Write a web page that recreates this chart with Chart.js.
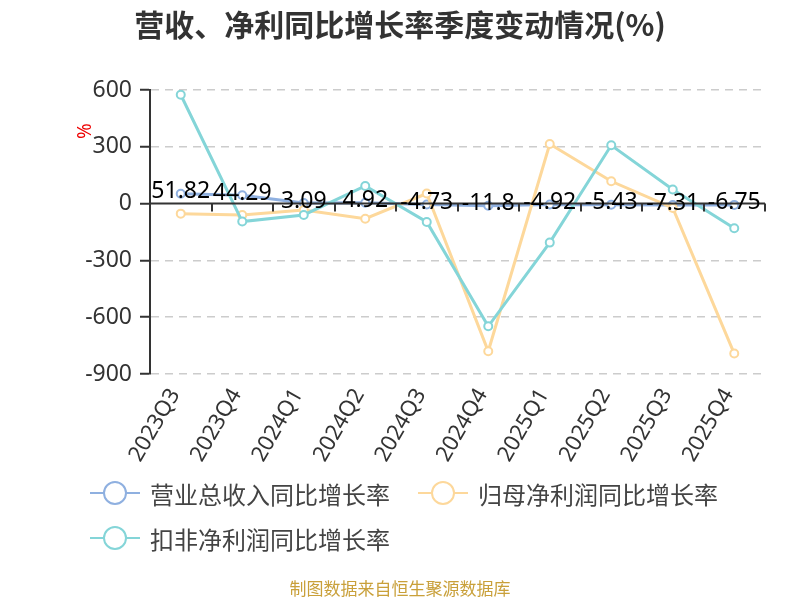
<!DOCTYPE html>
<html>
<head>
<meta charset="utf-8">
<script src="https://cdn.jsdelivr.net/npm/chart.js@4.4.1/dist/chart.umd.min.js"></script>
<style>
    body { margin: 0; width: 800px; height: 600px; background: #fff; position: relative; overflow: hidden;
           font-family: "Noto Sans", "Noto Sans CJK SC", sans-serif; }
    #box { position: absolute; left: 0; top: 0; width: 800px; height: 600px; }
    #title { position: absolute; left: 0; top: 1px; width: 800px; text-align: center; font-size: 30px;
             font-weight: bold; color: #333; font-family: "Noto Sans CJK SC", sans-serif; }
    .item { position: absolute; height: 30px; display: flex; align-items: center; font-size: 24px; color: #444;
            font-family: "Noto Sans CJK SC", sans-serif; }
    .icon { position: relative; width: 50px; height: 30px; margin-right: 10px; }
    .icon .ln { position: absolute; left: 0; top: 14px; width: 50px; height: 2px; }
    .icon .dot { position: absolute; left: 13px; top: 3px; width: 20px; height: 20px; border-radius: 50%;
                 background: #fff; border: 2px solid; }
    #source { position: absolute; left: 0; top: 575px; width: 800px; text-align: center; font-size: 17px;
              color: #c9a03a; font-family: "Noto Sans CJK SC", sans-serif; }
</style>
</head>
<body>
<div id="box"><canvas id="lineChart" width="800" height="600"></canvas></div>
<div id="title">营收、净利同比增长率季度变动情况(%)</div>
<div id="legend"></div>
<div id="source">制图数据来自恒生聚源数据库</div>
<script>
const quarters = ['2023Q3', '2023Q4', '2024Q1', '2024Q2', '2024Q3', '2024Q4', '2025Q1', '2025Q2', '2025Q3', '2025Q4'];
const revenueYoY = [51.82, 44.29, 3.09, 4.92, -4.73, -11.8, -4.92, -5.43, -7.31, -6.75];
const netProfitYoY = [-53, -60, -34, -80, 53, -780, 315, 118, -23, -792];
const deductedProfitYoY = [575, -95, -60, 93, -97, -648, -206, 308, 74, -130];

const seriesNames = ['营业总收入同比增长率', '归母净利润同比增长率', '扣非净利润同比增长率'];
const seriesColors = ['#8fb0e0', '#fdd89b', '#84d5d8'];

// legend (html, two rows like the picture)
const legendSpots = [[90, 478], [418, 478], [90, 523]];
const legendEl = document.getElementById('legend');
seriesNames.forEach((name, i) => {
    const div = document.createElement('div');
    div.className = 'item';
    div.style.left = legendSpots[i][0] + 'px';
    div.style.top = legendSpots[i][1] + 'px';
    div.innerHTML = `<span class="icon"><span class="ln" style="background:${seriesColors[i]}"></span>` +
        `<span class="dot" style="border-color:${seriesColors[i]}"></span></span>${name}`;
    legendEl.appendChild(div);
});

// zero axis line with category ticks, revenue labels, "%" axis name
const extras = {
    id: 'extras',
    afterDatasetsDraw(chart) {
        const { ctx, chartArea, scales: { x, y } } = chart;
        const y0 = y.getPixelForValue(0);
        ctx.save();
        ctx.strokeStyle = '#333';
        ctx.lineWidth = 2;
        ctx.beginPath();
        ctx.moveTo(chartArea.left, y0);
        ctx.lineTo(chartArea.right, y0);
        for (let i = 0; i <= quarters.length; i++) {
            const bx = Math.round(x.getPixelForValue(i - 0.5));
            ctx.moveTo(bx, y0);
            ctx.lineTo(bx, y0 + 8);
        }
        ctx.stroke();

        ctx.fillStyle = '#000';
        ctx.font = '23px "Noto Sans", sans-serif';
        ctx.textAlign = 'center';
        ctx.textBaseline = 'middle';
        chart.getDatasetMeta(0).data.forEach((pt, i) => {
            ctx.fillText(revenueYoY[i], pt.x, pt.y - 2);
        });

        ctx.translate(chartArea.left - 64, y.getPixelForValue(600) + 41);
        ctx.rotate(-Math.PI / 2);
        ctx.fillStyle = '#e00';
        ctx.font = '19px "Noto Sans", sans-serif';
        ctx.fillText('%', 0, 0);
        ctx.restore();
    }
};

const makeSet = (i, data, order) => ({
    label: seriesNames[i],
    data: data,
    borderColor: seriesColors[i],
    backgroundColor: '#fff',
    borderWidth: 3,
    pointRadius: 4,
    pointBorderWidth: 2,
    pointBackgroundColor: '#fff',
    pointBorderColor: seriesColors[i],
    tension: 0,
    order: order
});

new Chart(document.getElementById('lineChart'), {
    type: 'line',
    data: {
        labels: quarters,
        datasets: [
            makeSet(0, revenueYoY, 2),
            makeSet(1, netProfitYoY, 1),
            makeSet(2, deductedProfitYoY, 0)
        ]
    },
    options: {
        responsive: false,
        animation: false,
        layout: { padding: { top: 90, right: 35, bottom: 0, left: 0 } },
        plugins: { legend: { display: false }, tooltip: { enabled: false }, title: { display: false } },
        scales: {
            x: {
                offset: true,
                afterFit: s => { s.height = 226; },
                grid: { display: false, drawTicks: false },
                border: { display: false },
                ticks: {
                    color: '#333', padding: 10, labelOffset: -6, minRotation: 60, maxRotation: 60, autoSkip: false,
                    font: { size: 22, family: '"Noto Sans", sans-serif' }
                }
            },
            y: {
                min: -900, max: 600,
                afterFit: s => { s.width = 150; },
                border: { display: true, color: '#333', width: 2, dash: [8, 6] },
                grid: {
                    color: c => (c.tick && c.tick.value === 0 ? 'rgba(0,0,0,0)' : '#cccccc'),
                    lineWidth: 1.5,
                    tickLength: 10,
                    tickColor: '#333',
                    tickWidth: 2,
                    tickBorderDash: []
                },
                ticks: {
                    stepSize: 300, color: '#333', padding: 8,
                    font: { size: 23, family: '"Noto Sans", sans-serif' }
                }
            }
        }
    },
    plugins: [extras]
});
</script>
</body>
</html>
